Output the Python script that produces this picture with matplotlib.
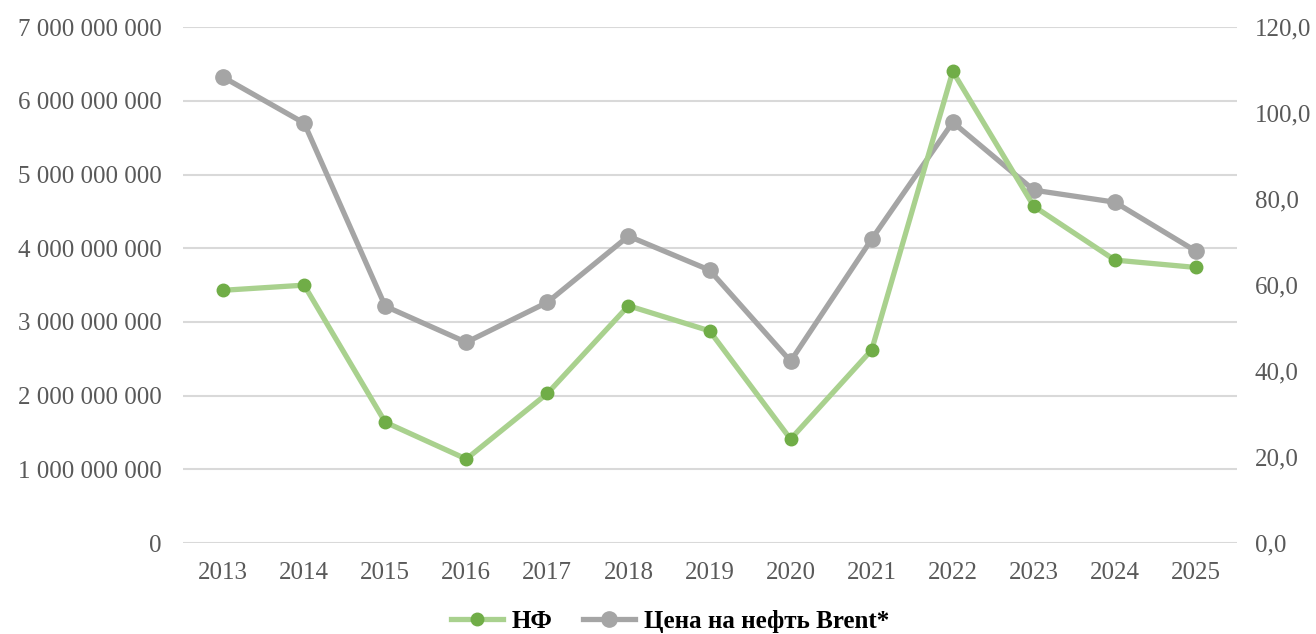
import numpy as np
import matplotlib.pyplot as plt
from matplotlib.ticker import FuncFormatter

years = ['2013', '2014', '2015', '2016', '2017', '2018', '2019',
         '2020', '2021', '2022', '2023', '2024', '2025']
nf = [3.43e9, 3.50e9, 1.64e9, 1.14e9, 2.03e9, 3.22e9, 2.88e9,
      1.41e9, 2.62e9, 6.40e9, 4.57e9, 3.84e9, 3.74e9]
brent = [108.4, 97.7, 55.1, 46.7, 56.0, 71.4, 63.5,
         42.3, 70.7, 97.9, 82.1, 79.3, 67.9]

plt.rcParams['font.family'] = ['Liberation Serif', 'DejaVu Serif']

fig = plt.figure(figsize=(13.16, 6.34), dpi=100)
ax = fig.add_axes([0.1387, 0.1435, 0.8009, 0.8135])
ax2 = ax.twinx()

x = np.arange(len(years))

ax.plot(x, nf, color='#A9D18E', lw=3.8, marker='o', ms=9,
        mfc='#70AD47', mec='#70AD47', label='НФ', zorder=3)
ax2.plot(x, brent, color='#A5A5A5', lw=3.8, marker='o', ms=11,
         mfc='#A5A5A5', mec='#A5A5A5', label='Цена на нефть Brent*', zorder=3)

# green on top of grey
ax.set_zorder(2)
ax.patch.set_visible(False)
ax2.set_zorder(1)

ax.set_xlim(-0.5, len(years) - 0.5)
ax.set_ylim(0, 7e9)
ax2.set_ylim(0, 120)
ax.set_yticks(np.arange(0, 7.01e9, 1e9))
ax2.set_yticks(np.arange(0, 121, 20))

ax.yaxis.set_major_formatter(FuncFormatter(lambda v, p: f'{int(round(v)):,}'.replace(',', ' ')))
ax2.yaxis.set_major_formatter(FuncFormatter(lambda v, p: f'{v:.1f}'.replace('.', ',')))

ax.set_xticks(x)
ax.set_xticklabels(years)

for a in (ax, ax2):
    for s in a.spines.values():
        s.set_visible(False)
    a.tick_params(length=0, labelsize=18, colors='#595959')
ax.tick_params(axis='y', pad=15)
ax2.tick_params(axis='y', pad=13)
ax.tick_params(axis='x', pad=14)

for v in np.arange(1e9, 7.01e9, 1e9):
    ax2.axhline(v / 7e9 * 120, color='#D9D9D9', lw=1.5, zorder=0)
ax2.axhline(0, color='#D9D9D9', lw=1.5, zorder=0)

h1, l1 = ax.get_legend_handles_labels()
h2, l2 = ax2.get_legend_handles_labels()
leg = fig.legend(h1 + h2, l1 + l2, loc='center', bbox_to_anchor=(0.509, 0.02),
                 ncol=2, frameon=False, handlelength=2.1, handletextpad=0.35,
                 columnspacing=1.2, prop={'size': 18, 'weight': 'bold'})

fig.savefig('out.png', dpi=100)
